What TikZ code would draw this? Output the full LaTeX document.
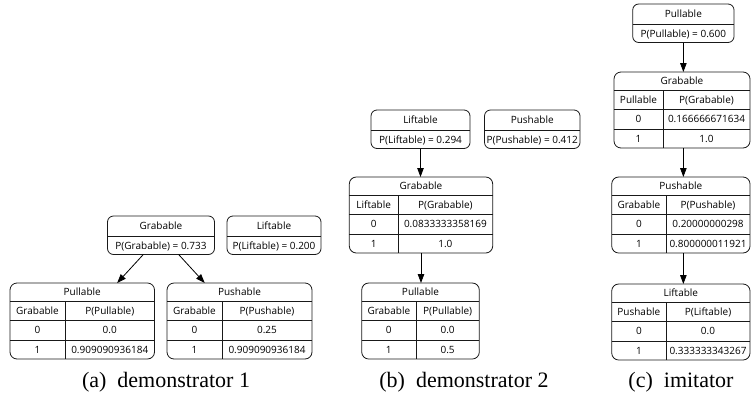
\documentclass[tikz,border=0pt]{standalone}
\usepackage{fontspec}
\setmainfont{Liberation Serif}
\newfontfamily\capfont{Liberation Serif}
\newfontfamily\nodefont{Open Sans}
\usetikzlibrary{arrows.meta}

\tikzset{
  x=1pt, y=-1pt,
  box/.style={draw=black!90, line width=0.8pt, rounded corners=6pt, inner sep=0pt, outer sep=0pt},
  tbl/.style={box, rounded corners=7pt},
  rule/.style={draw=black!90, line width=0.8pt},
  lbl/.style={font=\nodefont\fontsize{10}{12}\selectfont, inner sep=0pt, anchor=base},
  edge/.style={draw=black, line width=0.8pt, -{Triangle[length=9pt,width=6.5pt]}},
  caption/.style={font=\capfont\fontsize{22}{26}\selectfont, inner sep=0pt, anchor=base},
}

% marginal node: name, left, right, top, variable, probability line
\newcommand\margbox[6]{%
  \node[box, minimum width={#3-#2}, minimum height=38.5] (#1) at ({(#2+#3)/2},{#4+19.25}) {};
  \draw[rule] ({#2},{#4+20.5}) -- ({#3},{#4+20.5});
  \node[lbl] (#1-name) at ({(#2+#3)/2},{#4+10.25+3.6}) {#5};
  \node[lbl] (#1-prob) at ({(#2+#3)/2},{#4+29.5+3.6}) {#6};
}

% conditional table: name, left, right, top, column x, variable, parent, P(.|0), P(.|1)
\newcommand\cptable[9]{%
  \node[tbl, minimum width={#3-#2}, minimum height=76] (#1) at ({(#2+#3)/2},{#4+38}) {};
  \draw[rule] ({#2},{#4+18}) -- ({#3},{#4+18});
  \draw[rule] ({#2},{#4+37.5}) -- ({#3},{#4+37.5});
  \draw[rule] ({#2},{#4+57}) -- ({#3},{#4+57});
  \draw[rule] ({#5},{#4+18}) -- ({#5},{#4+76});
  \node[lbl] (#1-name) at ({(#2+#3)/2},{#4+9+3.6}) {#6};
  \node[lbl] (#1-par) at ({(#2+#5)/2},{#4+27.75+3.6}) {#7};
  \node[lbl] (#1-head) at ({(#5+#3)/2},{#4+27.75+3.6}) {P(#6)};
  \node[lbl] (#1-k0) at ({(#2+#5)/2},{#4+47.25+3.6}) {0};
  \node[lbl] (#1-v0) at ({(#5+#3)/2},{#4+47.25+3.6}) {#8};
  \node[lbl] (#1-k1) at ({(#2+#5)/2},{#4+66.5+3.6}) {1};
  \node[lbl] (#1-v1) at ({(#5+#3)/2},{#4+66.5+3.6}) {#9};
}

\begin{document}
\begin{tikzpicture}
\useasboundingbox (0,0) rectangle (751,399);

% (a) demonstrator 1
\margbox{aG}{107.5}{214.5}{216}{Grabable}{P(Grabable) = 0.733}
\margbox{aL}{227}{321}{216}{Liftable}{P(Liftable) = 0.200}
\cptable{aPl}{10}{154.5}{283}{65}{Pullable}{Grabable}{0.0}{0.909090936184}
\cptable{aPs}{167}{312}{283}{222}{Pushable}{Grabable}{0.25}{0.909090936184}
\draw[edge] (aG) -- (aPl);
\draw[edge] (aG) -- (aPs);
\node[caption] (capa) at (166,387.5) {(a)\ \ demonstrator 1};

% (b) demonstrator 2
\margbox{bL}{371}{470}{110}{Liftable}{P(Liftable) = 0.294}
\margbox{bPs}{484.5}{580}{110}{Pushable}{P(Pushable) = 0.412}
\cptable{bG}{349.3}{492.7}{177}{398}{Grabable}{Liftable}{0.0833333358169}{1.0}
\cptable{bPl}{361.7}{479.3}{283}{416}{Pullable}{Grabable}{0.0}{0.5}
\draw[edge] (bL.south) -- (bL.south |- bG.north);
\draw[edge] (bG.south) -- (bG.south |- bPl.north);
\node[caption] (capb) at (464,387.5) {(b)\ \ demonstrator 2};

% (c) imitator
\margbox{cPl}{632.7}{734}{4}{Pullable}{P(Pullable) = 0.600}
\cptable{cG}{614}{750}{72}{663}{Grabable}{Pullable}{0.166666671634}{1.0}
\cptable{cPs}{611.7}{750}{177}{666}{Pushable}{Grabable}{0.20000000298}{0.800000011921}
\cptable{cL}{611.7}{750}{284}{666}{Liftable}{Pushable}{0.0}{0.333333343267}
\draw[edge] (cPl.south) -- (cPl.south |- cG.north);
\draw[edge] (cPl.south |- cG.south) -- (cPl.south |- cPs.north);
\draw[edge] (cPl.south |- cPs.south) -- (cPl.south |- cL.north);
\node[caption] (capc) at (681,387.5) {(c)\ \ imitator};
\end{tikzpicture}
\end{document}
